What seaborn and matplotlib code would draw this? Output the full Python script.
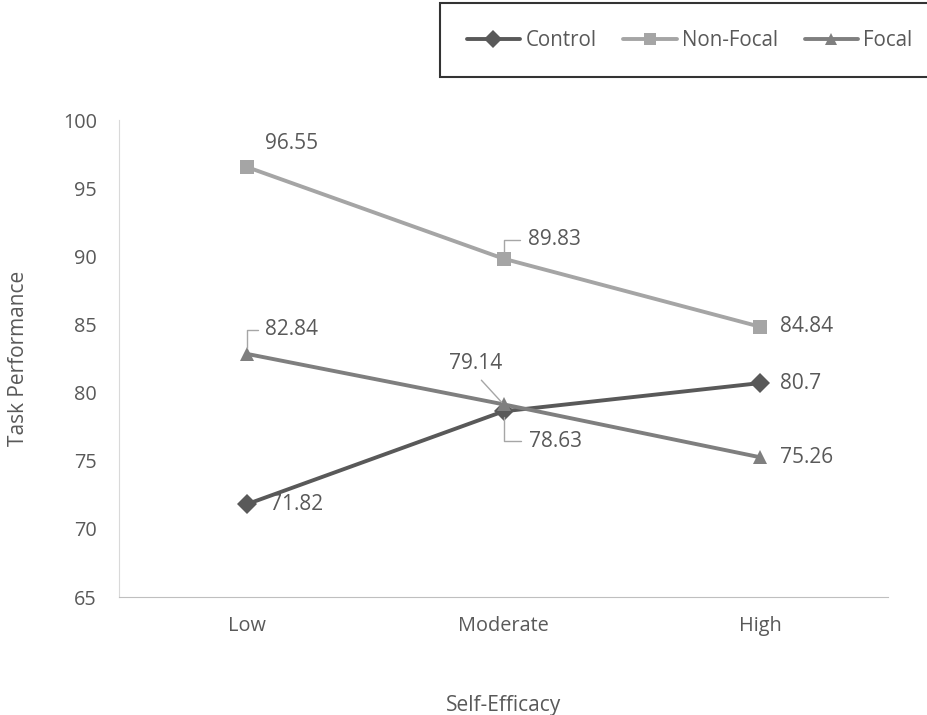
import numpy as np
import pandas as pd
import matplotlib.pyplot as plt
import seaborn as sns

sns.set_style('white')
plt.rcParams['font.family'] = ['Open Sans', 'DejaVu Sans']

levels = ['Low', 'Moderate', 'High']
control = [71.82, 78.63, 80.7]
non_focal = [96.55, 89.83, 84.84]
focal = [82.84, 79.14, 75.26]
conditions = ['Control', 'Non-Focal', 'Focal']

df = pd.DataFrame({
    'Self-Efficacy': levels * 3,
    'Task Performance': control + non_focal + focal,
    'Condition': np.repeat(conditions, 3),
})

colors = {'Control': '#595959', 'Non-Focal': '#a5a5a5', 'Focal': '#7f7f7f'}
markers = {'Control': 'D', 'Non-Focal': 's', 'Focal': '^'}
text_c = '#595959'

fig = plt.figure(figsize=(9.27, 7.15), dpi=100)
ax = fig.add_axes([0.1284, 0.165, 0.8296, 0.667])

sns.lineplot(data=df, x='Self-Efficacy', y='Task Performance', hue='Condition',
             style='Condition', markers=markers, dashes=False, palette=colors,
             linewidth=2.8, markersize=10, markeredgewidth=0, ax=ax)

# label offsets in pixels (dx, dy), leader line style (None = no line)
offsets = {
    'Control': [(23, 0, None), (25, -30, 'angle'), (20, 0, None)],
    'Non-Focal': [(18, 24, None), (24, 19, 'angle'), (20, 0, None)],
    'Focal': [(18, 24, 'angle'), (-28, 41, 'straight'), (20, 0, None)],
}
series = {'Control': control, 'Non-Focal': non_focal, 'Focal': focal}
for name, vals in series.items():
    for i, v in enumerate(vals):
        dx, dy, lead = offsets[name][i]
        ha = 'left' if dx > 0 else 'center'
        kw = {}
        if lead == 'angle':
            kw['arrowprops'] = dict(arrowstyle='-', color='#a6a6a6', lw=1,
                                    shrinkA=3, shrinkB=4, relpos=(0, 0.5),
                                    connectionstyle='angle,angleA=0,angleB=90,rad=0')
        elif lead == 'straight':
            kw['arrowprops'] = dict(arrowstyle='-', color='#a6a6a6', lw=1,
                                    shrinkA=3, shrinkB=2, relpos=(0.5, 0))
        ax.annotate(f'{v:g}', xy=(i, v), xytext=(dx, dy),
                    textcoords='offset pixels', ha=ha, va='center',
                    fontsize=15, color=text_c, **kw)

ax.set_xlim(-0.5, 2.5)
ax.set_ylim(65, 100)
ax.set_yticks(range(65, 101, 5))
ax.tick_params(axis='both', length=0, labelsize=14.3, colors=text_c)
ax.tick_params(axis='y', pad=16)
ax.tick_params(axis='x', pad=14)
ax.set_xlabel('Self-Efficacy', fontsize=15, color=text_c, labelpad=42)
ax.set_ylabel('Task Performance', fontsize=15, color=text_c, labelpad=24)

for s in ['top', 'right']:
    ax.spines[s].set_visible(False)
ax.spines['left'].set_color('#d9d9d9')
ax.spines['bottom'].set_color('#bfbfbf')

handles, labels = ax.get_legend_handles_labels()
ax.get_legend().remove()
for h in handles:
    h.set_markersize(9)
leg = fig.legend(handles, labels, loc='upper left', ncol=3,
                 bbox_to_anchor=(440 / 927, 1 - 3 / 715), borderaxespad=0,
                 frameon=True, fancybox=False, fontsize=14.8, handlelength=2.6,
                 handletextpad=0.25, columnspacing=1.3, borderpad=1.3)
leg.get_frame().set_edgecolor('black')
leg.get_frame().set_linewidth(1.5)
for t in leg.get_texts():
    t.set_color(text_c)

fig.savefig('out.png', dpi=100)
